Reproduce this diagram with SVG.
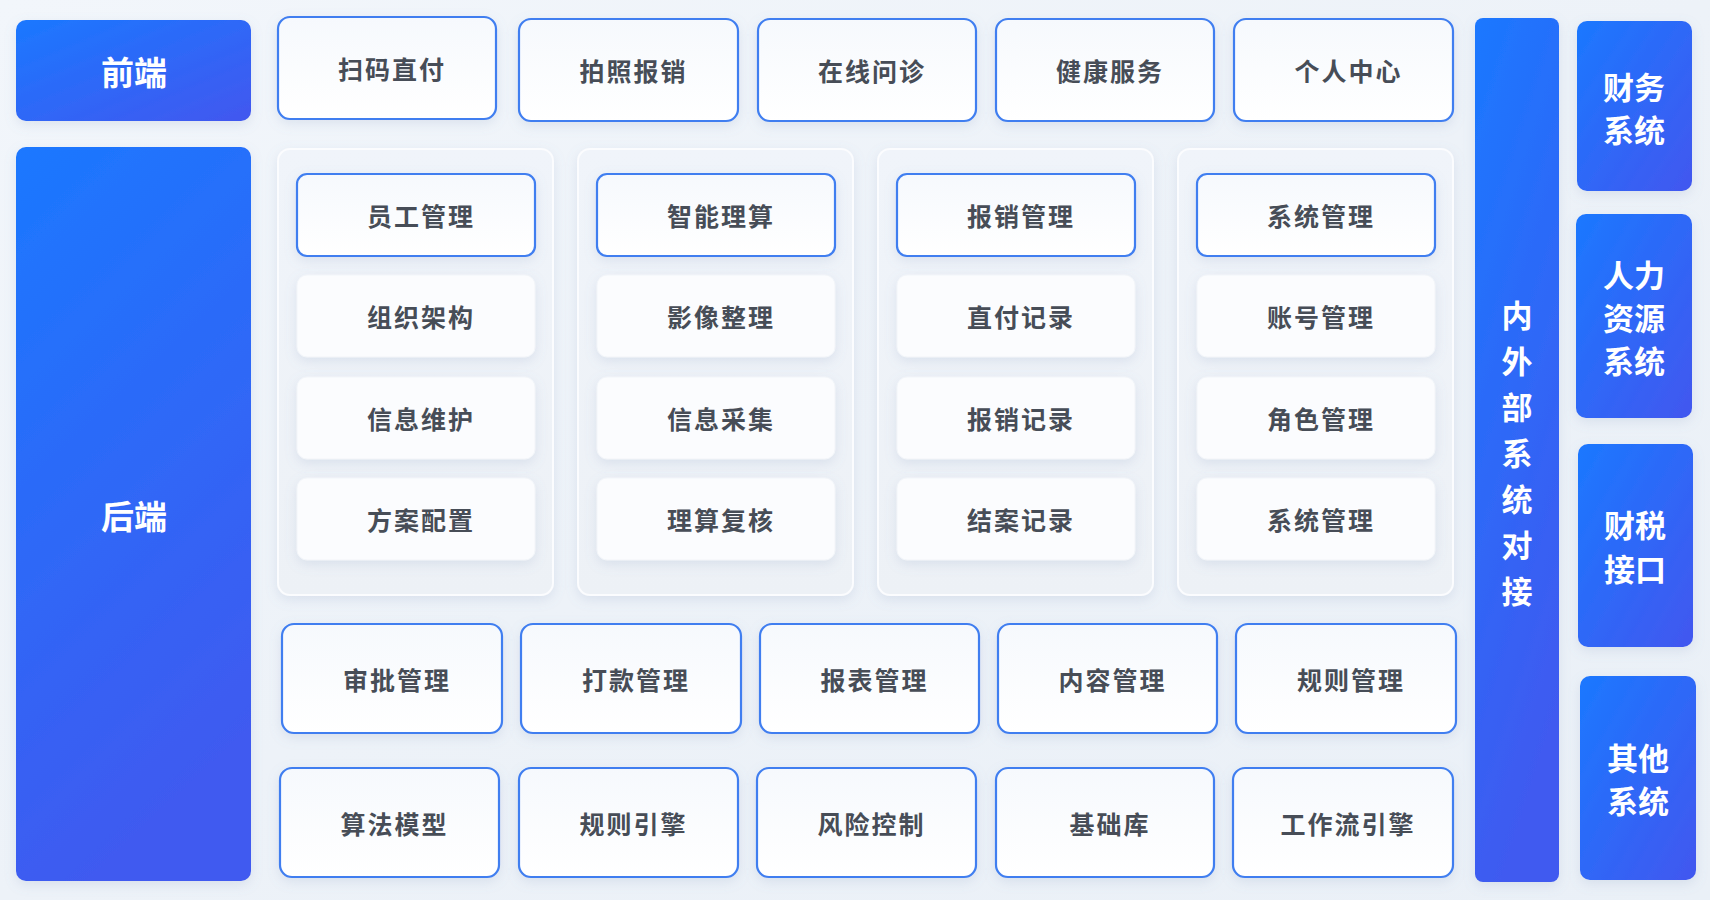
<svg xmlns="http://www.w3.org/2000/svg" width="1710" height="900" viewBox="0 0 1710 900">
<defs>
<linearGradient id="bg" x1="0" y1="0" x2="1" y2="1">
<stop offset="0" stop-color="#f2f6fb"/>
<stop offset="0.5" stop-color="#edf2f8"/>
<stop offset="1" stop-color="#eaf0f7"/>
</linearGradient>
<linearGradient id="blue" x1="0" y1="0" x2="1" y2="1">
<stop offset="0" stop-color="#1b78ff"/>
<stop offset="1" stop-color="#4257ef"/>
</linearGradient>
<linearGradient id="blueTall" x1="0" y1="0" x2="0.3" y2="1">
<stop offset="0" stop-color="#1b78ff"/>
<stop offset="1" stop-color="#3f5af0"/>
</linearGradient>
<linearGradient id="card" x1="0" y1="0" x2="0" y2="1">
<stop offset="0" stop-color="#f6f9fd"/>
<stop offset="1" stop-color="#ffffff"/>
</linearGradient>
<linearGradient id="panel" x1="0" y1="0" x2="0" y2="1">
<stop offset="0" stop-color="#f0f4fa"/>
<stop offset="1" stop-color="#edf1f6"/>
</linearGradient>
<filter id="sh" x="-20%" y="-20%" width="140%" height="150%">
<feDropShadow dx="0" dy="4" stdDeviation="6" flood-color="#7d93b8" flood-opacity="0.18"/>
</filter>
</defs>
<style>
.blue{fill:url(#blue);filter:url(#sh)}
.blueT{fill:url(#blueTall);filter:url(#sh)}
.card{fill:url(#card);stroke:#3f7ef0;stroke-width:2.2;filter:url(#sh)}
.plain{fill:#fbfcfe;stroke:#f2f5f9;stroke-width:1;filter:url(#sh)}
.panel{fill:url(#panel);stroke:#fbfcfe;stroke-width:2;filter:url(#sh)}
.t{font-family:"Noto Sans CJK SC","Noto Sans",sans-serif;font-size:25px;font-weight:700;fill:#474d57;text-anchor:middle;dominant-baseline:central;letter-spacing:2px;transform:translate(5px,0)}
.w{font-family:"Noto Sans CJK SC","Noto Sans",sans-serif;font-size:31px;font-weight:700;fill:#ffffff;text-anchor:middle;dominant-baseline:central}
.wl{font-size:33px}
</style>
<rect x="0" y="0" width="1710" height="900" fill="url(#bg)"/>

<g id="frontend">
<rect class="blue" x="16" y="20" width="235" height="101" rx="10"/>
<text class="w wl" x="134" y="71">前端</text>
</g>
<g id="backend">
<rect class="blueT" x="16" y="147" width="235" height="734" rx="10"/>
<text class="w wl" x="134" y="515">后端</text>
</g>

<g id="front-modules">
<g id="f1"><rect class="card" x="278" y="17" width="218" height="102" rx="12"/><text class="t" x="387" y="68">扫码直付</text></g>
<g id="f2"><rect class="card" x="519" y="19" width="219" height="102" rx="12"/><text class="t" x="628.5" y="70">拍照报销</text></g>
<g id="f3"><rect class="card" x="758" y="19" width="218" height="102" rx="12"/><text class="t" x="867" y="70">在线问诊</text></g>
<g id="f4"><rect class="card" x="996" y="19" width="218" height="102" rx="12"/><text class="t" x="1105" y="70">健康服务</text></g>
<g id="f5"><rect class="card" x="1234" y="19" width="219" height="102" rx="12"/><text class="t" x="1343.5" y="70">个人中心</text></g>
</g>

<g id="panel1">
<rect class="panel" x="278" y="149" width="275" height="446" rx="12"/>
<g id="p1a"><rect class="card" x="297" y="174" width="238" height="82" rx="10"/><text class="t" x="416" y="215">员工管理</text></g>
<g id="p1b"><rect class="plain" x="297" y="275" width="238" height="82" rx="10"/><text class="t" x="416" y="316">组织架构</text></g>
<g id="p1c"><rect class="plain" x="297" y="377" width="238" height="82" rx="10"/><text class="t" x="416" y="418">信息维护</text></g>
<g id="p1d"><rect class="plain" x="297" y="478" width="238" height="82" rx="10"/><text class="t" x="416" y="519">方案配置</text></g>
</g>
<g id="panel2">
<rect class="panel" x="578" y="149" width="275" height="446" rx="12"/>
<g id="p2a"><rect class="card" x="597" y="174" width="238" height="82" rx="10"/><text class="t" x="716" y="215">智能理算</text></g>
<g id="p2b"><rect class="plain" x="597" y="275" width="238" height="82" rx="10"/><text class="t" x="716" y="316">影像整理</text></g>
<g id="p2c"><rect class="plain" x="597" y="377" width="238" height="82" rx="10"/><text class="t" x="716" y="418">信息采集</text></g>
<g id="p2d"><rect class="plain" x="597" y="478" width="238" height="82" rx="10"/><text class="t" x="716" y="519">理算复核</text></g>
</g>
<g id="panel3">
<rect class="panel" x="878" y="149" width="275" height="446" rx="12"/>
<g id="p3a"><rect class="card" x="897" y="174" width="238" height="82" rx="10"/><text class="t" x="1016" y="215">报销管理</text></g>
<g id="p3b"><rect class="plain" x="897" y="275" width="238" height="82" rx="10"/><text class="t" x="1016" y="316">直付记录</text></g>
<g id="p3c"><rect class="plain" x="897" y="377" width="238" height="82" rx="10"/><text class="t" x="1016" y="418">报销记录</text></g>
<g id="p3d"><rect class="plain" x="897" y="478" width="238" height="82" rx="10"/><text class="t" x="1016" y="519">结案记录</text></g>
</g>
<g id="panel4">
<rect class="panel" x="1178" y="149" width="275" height="446" rx="12"/>
<g id="p4a"><rect class="card" x="1197" y="174" width="238" height="82" rx="10"/><text class="t" x="1316" y="215">系统管理</text></g>
<g id="p4b"><rect class="plain" x="1197" y="275" width="238" height="82" rx="10"/><text class="t" x="1316" y="316">账号管理</text></g>
<g id="p4c"><rect class="plain" x="1197" y="377" width="238" height="82" rx="10"/><text class="t" x="1316" y="418">角色管理</text></g>
<g id="p4d"><rect class="plain" x="1197" y="478" width="238" height="82" rx="10"/><text class="t" x="1316" y="519">系统管理</text></g>
</g>

<g id="row3">
<g id="r3a"><rect class="card" x="282" y="624" width="220" height="109" rx="12"/><text class="t" x="392" y="679">审批管理</text></g>
<g id="r3b"><rect class="card" x="521" y="624" width="220" height="109" rx="12"/><text class="t" x="631" y="679">打款管理</text></g>
<g id="r3c"><rect class="card" x="760" y="624" width="219" height="109" rx="12"/><text class="t" x="869.5" y="679">报表管理</text></g>
<g id="r3d"><rect class="card" x="998" y="624" width="219" height="109" rx="12"/><text class="t" x="1107.5" y="679">内容管理</text></g>
<g id="r3e"><rect class="card" x="1236" y="624" width="220" height="109" rx="12"/><text class="t" x="1346" y="679">规则管理</text></g>
</g>
<g id="row4">
<g id="r4a"><rect class="card" x="280" y="768" width="219" height="109" rx="12"/><text class="t" x="389.5" y="823">算法模型</text></g>
<g id="r4b"><rect class="card" x="519" y="768" width="219" height="109" rx="12"/><text class="t" x="628.5" y="823">规则引擎</text></g>
<g id="r4c"><rect class="card" x="757" y="768" width="219" height="109" rx="12"/><text class="t" x="866.5" y="823">风险控制</text></g>
<g id="r4d"><rect class="card" x="996" y="768" width="218" height="109" rx="12"/><text class="t" x="1105" y="823">基础库</text></g>
<g id="r4e"><rect class="card" x="1233" y="768" width="220" height="109" rx="12"/><text class="t" x="1343" y="823">工作流引擎</text></g>
</g>

<g id="integration">
<rect class="blueT" x="1475" y="18" width="84" height="864" rx="8"/>
<text class="w" x="1517" y="313">内</text>
<text class="w" x="1517" y="359">外</text>
<text class="w" x="1517" y="405">部</text>
<text class="w" x="1517" y="451">系</text>
<text class="w" x="1517" y="497">统</text>
<text class="w" x="1517" y="543">对</text>
<text class="w" x="1517" y="589">接</text>
</g>

<g id="finance">
<rect class="blue" x="1577" y="21" width="115" height="170" rx="10"/>
<text class="w" x="1634" y="85">财务</text>
<text class="w" x="1634" y="128">系统</text>
</g>
<g id="hr">
<rect class="blue" x="1576" y="214" width="116" height="204" rx="10"/>
<text class="w" x="1634" y="273">人力</text>
<text class="w" x="1634" y="316">资源</text>
<text class="w" x="1634" y="359">系统</text>
</g>
<g id="tax">
<rect class="blue" x="1578" y="444" width="115" height="203" rx="10"/>
<text class="w" x="1635" y="523">财税</text>
<text class="w" x="1635" y="567">接口</text>
</g>
<g id="other">
<rect class="blue" x="1580" y="676" width="116" height="204" rx="10"/>
<text class="w" x="1638" y="756">其他</text>
<text class="w" x="1638" y="799">系统</text>
</g>

<g id="connectors"></g>
</svg>
